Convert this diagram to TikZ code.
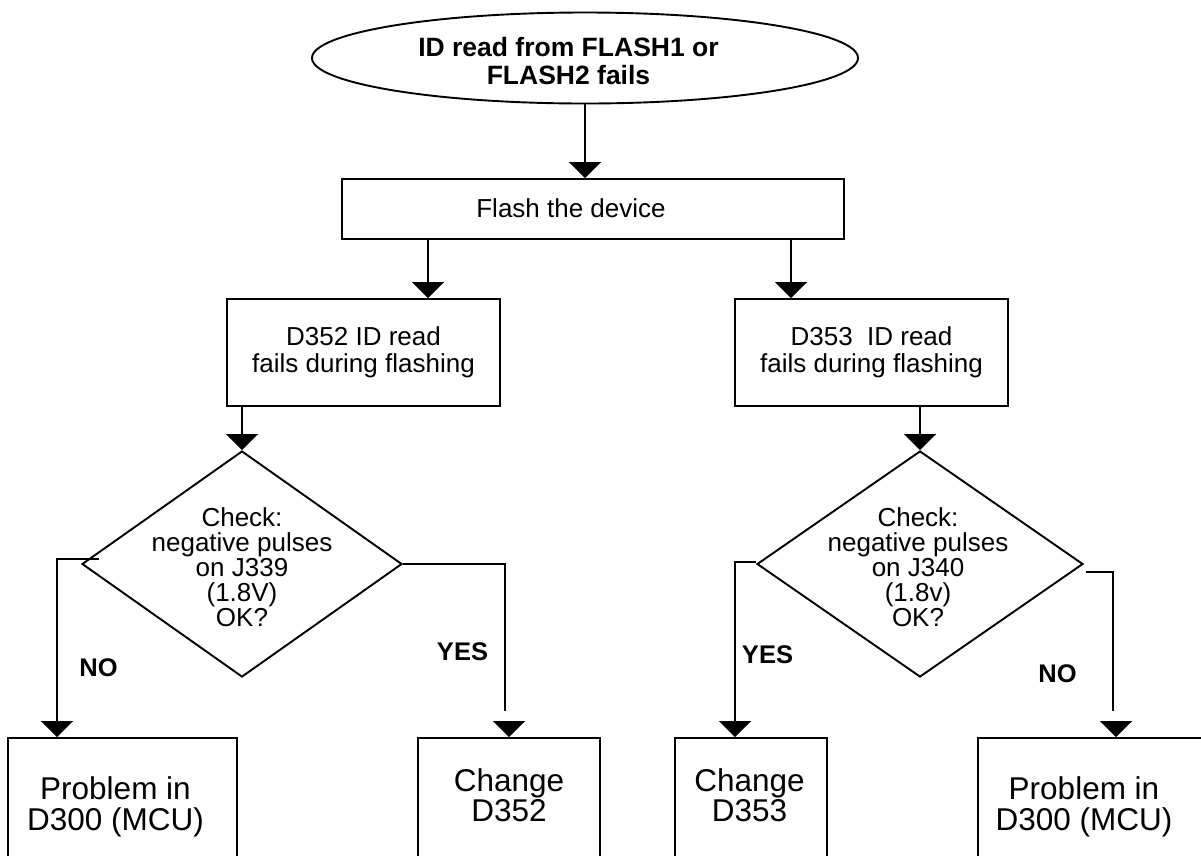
\documentclass[tikz,border=0pt]{standalone}
\usepackage{fontspec}
\setmainfont{Liberation Sans}
\usetikzlibrary{shapes.geometric,arrows.meta,calc}
\tikzset{
  ln/.style={line width=1.9pt, line join=miter},
  arr/.style={ln, -{Triangle[width=32pt,length=16pt]}},
  boxnode/.style={draw, ln, rectangle, inner sep=0pt},
  dianode/.style={draw, ln, diamond, inner sep=0pt},
  ellnode/.style={draw, ln, ellipse, inner sep=0pt},
  txt/.style={inner sep=0pt, align=center},
  midtxt/.style={txt, font=\fontsize{26}{27}\selectfont},
  diatxt/.style={txt, font=\fontsize{26}{25}\selectfont},
  bigtxt/.style={txt, font=\fontsize{31.5}{30.5}\selectfont},
  ellipsetxt/.style={txt, font=\fontsize{26.5}{28.5}\selectfont\bfseries},
  lab/.style={inner sep=0pt, anchor=base, font=\fontsize{25.5}{27}\selectfont\bfseries}
}
\begin{document}
\begin{tikzpicture}[x=1pt,y=-1pt]
\useasboundingbox (0,0) rectangle (1201,855);
\clip (0,0) rectangle (1201,855);

% shapes
\node[ellnode, minimum width=546pt, minimum height=91pt] (e) at (585,58) {};
\node[ellipsetxt] (et) at (568.5,61) {ID read from FLASH1 or\\FLASH2 fails};

\node[boxnode, minimum width=502pt, minimum height=60pt] (f) at (593,209) {};
\node[txt, anchor=base, font=\fontsize{26}{27}\selectfont] (ft) at (571,217) {Flash the device};

\node[boxnode, midtxt, minimum width=273pt, minimum height=107pt] (b1) at (363.5,352.5) {D352 ID read\\fails during flashing};
\node[boxnode, midtxt, minimum width=273pt, minimum height=107pt] (b2) at (871.5,352.5) {D353\ \ ID read\\fails during flashing};

\node[dianode, minimum width=320pt, minimum height=226pt] (d1) at (242,564) {};
\node[diatxt] (dt1) at (242,567.5) {Check:\\negative pulses\\on J339\\(1.8V)\\OK?};
\node[dianode, minimum width=326pt, minimum height=226pt] (d2) at (920,564) {};
\node[diatxt] (dt2) at (918,567.5) {Check:\\negative pulses\\on J340\\(1.8v)\\OK?};

\node[boxnode, minimum width=229pt, minimum height=142pt] (p1) at (122.5,809) {};
\node[bigtxt] (pt1) at (115.5,807) {Problem in\\D300 (MCU)};
\node[boxnode, minimum width=182pt, minimum height=142pt] (c1) at (509,809) {};
\node[bigtxt] (ct1) at (509,795) {Change\\D352};
\node[boxnode, minimum width=152pt, minimum height=142pt] (c2) at (751,809) {};
\node[bigtxt] (ct2) at (749.5,795) {Change\\D353};
\node[boxnode, minimum width=227pt, minimum height=142pt] (p2) at (1091.5,809) {};
\node[bigtxt] (pt2) at (1084,807) {Problem in\\D300 (MCU)};

% labels
\node[lab] (no1) at (98.5,676) {NO};
\node[lab] (yes1) at (462.5,660) {YES};
\node[lab] (yes2) at (767.5,663) {YES};
\node[lab] (no2) at (1057.5,682) {NO};

% connectors
\draw[arr] (e.south) -- (e.south |- f.north);
\coordinate (a1) at ([shift={(64.5,0)}]b1.north);
\coordinate (a2) at ([shift={(-80.5,0)}]b2.north);
\draw[arr] (f.south -| a1) -- (a1);
\draw[arr] (f.south -| a2) -- (a2);
\draw[arr] (b1.south -| d1.north) -- (d1.north);
\draw[arr] (b2.south -| d2.north) -- (d2.north);

% left decision
\draw[arr] ([shift={(18,-5)}]d1.west) -| ([shift={(-65.5,0)}]p1.north);
\draw[ln] (d1.east) -| ([shift={(-4,-26)}]c1.north);
\draw[arr] ([shift={(0,-15)}]c1.north) -- (c1.north);

% right decision
\draw[arr] ([shift={(0,-2)}]d2.west) -| ([shift={(-16,0)}]c2.north);
\draw[ln] ([shift={(2,8)}]d2.east) -| ([shift={(21.5,-26)}]p2.north);
\draw[arr] ([shift={(24.5,-15)}]p2.north) -- ([shift={(24.5,0)}]p2.north);
\end{tikzpicture}
\end{document}
